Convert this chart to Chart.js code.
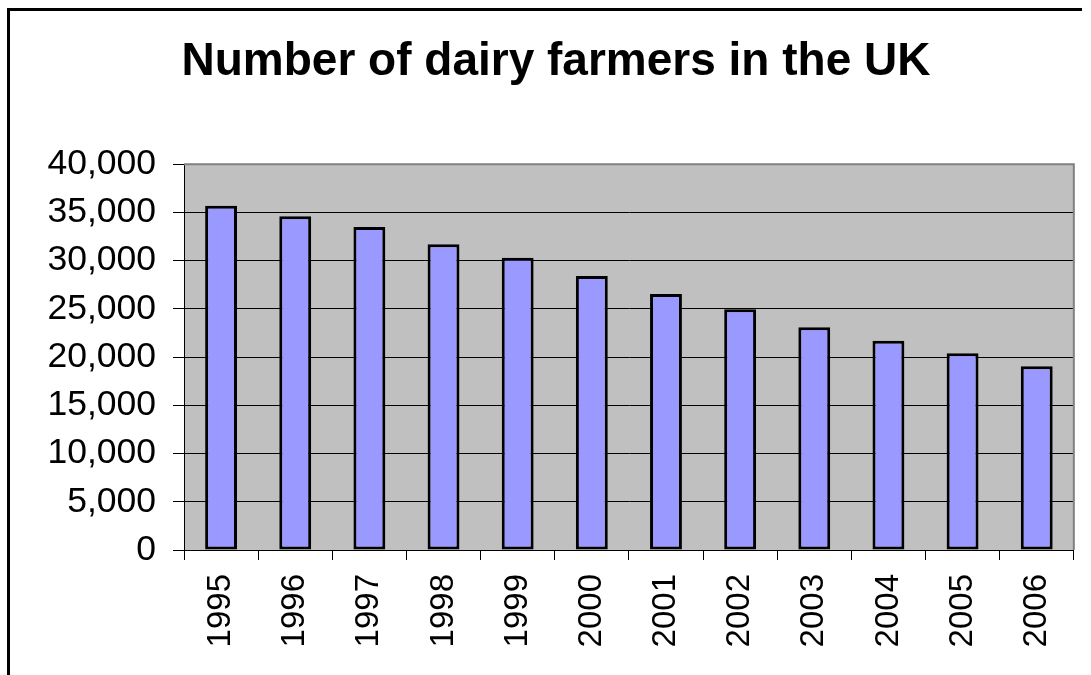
<!DOCTYPE html>
<html>
<head>
<meta charset="utf-8">
<script src="https://cdn.jsdelivr.net/npm/chart.js@4/dist/chart.umd.min.js"></script>
<style>
  html, body { margin: 0; padding: 0; background: #fff; }
  #wrap { width: 1091px; height: 675px; position: relative; }
</style>
</head>
<body>
<div id="wrap"><canvas id="c" width="1091" height="675"></canvas></div>
<script>
const categories = ['1995','1996','1997','1998','1999','2000','2001','2002','2003','2004','2005','2006'];
const farmers = [35700, 34600, 33500, 31700, 30300, 28400, 26550, 24950, 23100, 21700, 20400, 19050];
const yTicks = [0, 5000, 10000, 15000, 20000, 25000, 30000, 35000, 40000];
const titleText = 'Number of dairy farmers in the UK';

const framePlugin = {
  id: 'frame',
  beforeDraw(chart) {
    const ctx = chart.ctx;
    const a = chart.chartArea;
    ctx.save();
    ctx.fillStyle = '#ffffff';
    ctx.fillRect(0, 0, chart.width, chart.height);
    ctx.fillStyle = '#000000';
    ctx.fillRect(7, 8, 3, chart.height - 8);
    ctx.fillRect(7, 8, 1075, 3);
    ctx.fillStyle = '#c0c0c0';
    ctx.fillRect(a.left, a.top, a.right - a.left, a.bottom - a.top);
    ctx.restore();
  },
  afterDatasetsDraw(chart) {
    const ctx = chart.ctx;
    const a = chart.chartArea;
    ctx.save();
    ctx.strokeStyle = '#808080';
    ctx.lineWidth = 2;
    ctx.beginPath();
    ctx.moveTo(a.left, a.top);
    ctx.lineTo(a.right, a.top);
    ctx.lineTo(a.right, a.bottom);
    ctx.stroke();
    ctx.restore();
  }
};

new Chart(document.getElementById('c'), {
  type: 'bar',
  data: {
    labels: categories,
    datasets: [{
      data: farmers,
      backgroundColor: '#9999ff',
      borderColor: '#000000',
      borderWidth: 3,
      borderSkipped: false,
      barPercentage: 0.43,
      categoryPercentage: 1.0
    }]
  },
  options: {
    responsive: false,
    animation: false,
    devicePixelRatio: 1,
    layout: { padding: { left: 37, right: 16, top: 20, bottom: 0 } },
    plugins: {
      legend: { display: false },
      tooltip: { enabled: false },
      title: {
        display: true,
        text: titleText,
        color: '#000',
        font: { family: '"Liberation Sans", Arial, sans-serif', size: 46, weight: 'bold' },
        padding: { top: 15, bottom: 74 }
      }
    },
    scales: {
      x: {
        grid: { display: true, drawOnChartArea: false, offset: true, color: '#000', tickLength: 10, tickColor: '#000' },
        border: { display: true, color: '#000', width: 1 },
        ticks: {
          color: '#000',
          font: { family: '"Liberation Sans", Arial, sans-serif', size: 33 },
          minRotation: 90, maxRotation: 90, padding: 14, autoSkip: false
        },
        afterFit(scale) { scale.height = 125; }
      },
      y: {
        min: 0, max: 40000,
        afterBuildTicks(scale) { scale.ticks = yTicks.map(v => ({ value: v })); },
        grid: { color: '#000', lineWidth: 1, tickLength: 11, tickColor: '#000' },
        border: { display: true, color: '#000', width: 1 },
        ticks: {
          color: '#000',
          font: { family: '"Liberation Sans", Arial, sans-serif', size: 35.5 },
          padding: 17,
          callback: (v) => Number(v).toLocaleString('en-US')
        },
        afterFit(scale) { scale.width = 147; }
      }
    }
  },
  plugins: [framePlugin]
});
</script>
</body>
</html>
